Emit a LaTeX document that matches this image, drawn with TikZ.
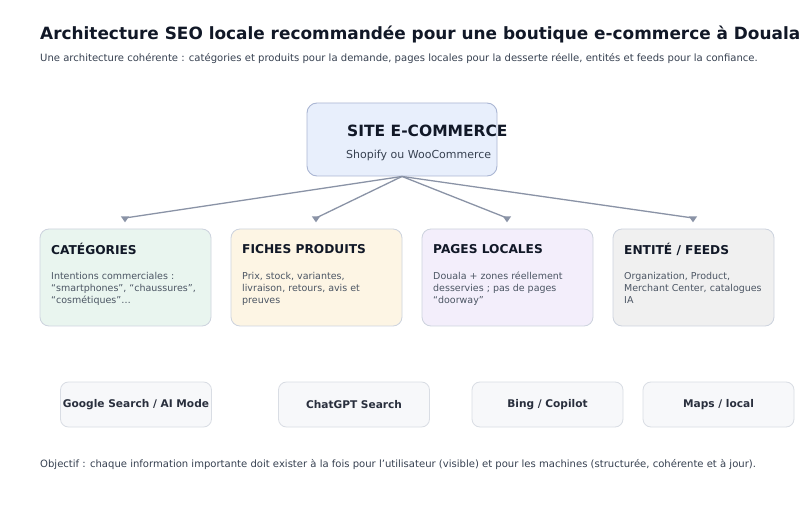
\documentclass[tikz,border=0pt]{standalone}
\usepackage{fontspec}
\setmainfont{DejaVu Sans}
\usetikzlibrary{shapes.geometric,calc}
\definecolor{ink}{HTML}{111827}
\definecolor{subink}{HTML}{374151}
\definecolor{bodyink}{HTML}{4B5563}
\definecolor{arrowc}{HTML}{8A93A6}
\definecolor{sitefill}{HTML}{E8EFFC}
\definecolor{siteline}{HTML}{AAB6D3}
\definecolor{fillA}{HTML}{E9F5EF}
\definecolor{fillB}{HTML}{FDF5E4}
\definecolor{fillC}{HTML}{F3EEFB}
\definecolor{fillD}{HTML}{F0F0F0}
\definecolor{boxline}{HTML}{CDD3DE}
\definecolor{engfill}{HTML}{F7F8FA}
\definecolor{engline}{HTML}{D9DDE4}
\begin{document}
\begin{tikzpicture}[x=1pt,y=-1pt,
  rbox/.style={draw=boxline,line width=0.8pt,rounded corners=9pt,minimum width=171pt,minimum height=97pt,inner sep=0pt},
  engbox/.style={draw=engline,fill=engfill,line width=0.8pt,rounded corners=8pt,minimum width=151pt,minimum height=45pt,inner sep=0pt,font=\fontsize{10.6}{12}\selectfont\bfseries,text=ink!90},
  boxtitle/.style={anchor=west,inner sep=0pt,font=\fontsize{12.2}{15}\selectfont\bfseries,text=ink},
  boxbody/.style={anchor=north west,inner sep=0pt,align=left,font=\fontsize{9.5}{11.8}\selectfont,text=bodyink},
  conn/.style={draw=arrowc,line width=1.3pt},
  tip/.style={isosceles triangle,shape border rotate=-90,isosceles triangle apex angle=70,fill=arrowc,inner sep=0pt,minimum width=8pt,minimum height=6pt}
]
\useasboundingbox (0,0) rectangle (804,513);
\fill[white] (0,0) rectangle (804,513);

% title and subtitle
\node[anchor=base west,inner sep=0pt,font=\fontsize{16.9}{20}\selectfont\bfseries,text=ink] (title) at (40,40) {Architecture SEO locale recommandée pour une boutique e-commerce à Douala};
\node[anchor=base west,inner sep=0pt,font=\fontsize{10.05}{12}\selectfont,text=subink] (subtitle) at (40,61.5) {Une architecture cohérente : catégories et produits pour la demande, pages locales pour la desserte réelle, entités et feeds pour la confiance.};

% site box
\node[draw=siteline,fill=sitefill,line width=0.9pt,rounded corners=10pt,minimum width=190pt,minimum height=73pt,inner sep=0pt] (site) at (402,139.5) {};
\node[anchor=west,inner sep=0pt,font=\fontsize{15.5}{17}\selectfont\bfseries,text=ink] (sitet) at (347,131) {SITE E-COMMERCE};
\node[anchor=west,inner sep=0pt,font=\fontsize{11}{12}\selectfont,text=subink] (sites) at (346,155.5) {Shopify ou WooCommerce};

% four boxes
\node[rbox,fill=fillA] (cat) at (125.5,277.5) {};
\node[rbox,fill=fillB] (prod) at (316.5,277.5) {};
\node[rbox,fill=fillC] (loc) at (507.5,277.5) {};
\node[rbox,fill=fillD,minimum width=161pt] (ent) at (693.5,277.5) {};

\node[boxtitle] (catt) at (51,249) {CATÉGORIES};
\node[boxbody] (catb) at (51,272) {Intentions commerciales :\\“smartphones”, “chaussures”,\\“cosmétiques”…};
\node[boxtitle] (prodt) at (242,249) {FICHES PRODUITS};
\node[boxbody] (prodb) at (242,272) {Prix, stock, variantes,\\livraison, retours, avis et\\preuves};
\node[boxtitle] (loct) at (433,249) {PAGES LOCALES};
\node[boxbody] (locb) at (433,272) {Douala + zones réellement\\desservies ; pas de pages\\“doorway”};
\node[boxtitle] (entt) at (624,249) {ENTITÉ / FEEDS};
\node[boxbody] (entb) at (624,272) {Organization, Product,\\Merchant Center, catalogues\\IA};

% connectors
\coordinate (t1) at (125,218);
\coordinate (t2) at (316,218);
\coordinate (t3) at (507,218);
\coordinate (t4) at (693,218);
\foreach \t in {t1,t2,t3,t4}{
  \draw[conn] (site.south) -- (\t);
  \node[tip] at ($(\t)+(0,0.5)$) {};
}

% engines
\node[engbox] (g) at (136,404.5) {Google Search / AI Mode};
\node[engbox] (c) at (354,404.5) {ChatGPT Search};
\node[engbox] (b) at (547.5,404.5) {Bing / Copilot};
\node[engbox] (m) at (718.5,404.5) {Maps / local};

% footer
\node[anchor=base west,inner sep=0pt,font=\fontsize{10.05}{12}\selectfont,text=subink] (foot) at (40,467) {Objectif : chaque information importante doit exister à la fois pour l’utilisateur (visible) et pour les machines (structurée, cohérente et à jour).};
\end{tikzpicture}
\end{document}
